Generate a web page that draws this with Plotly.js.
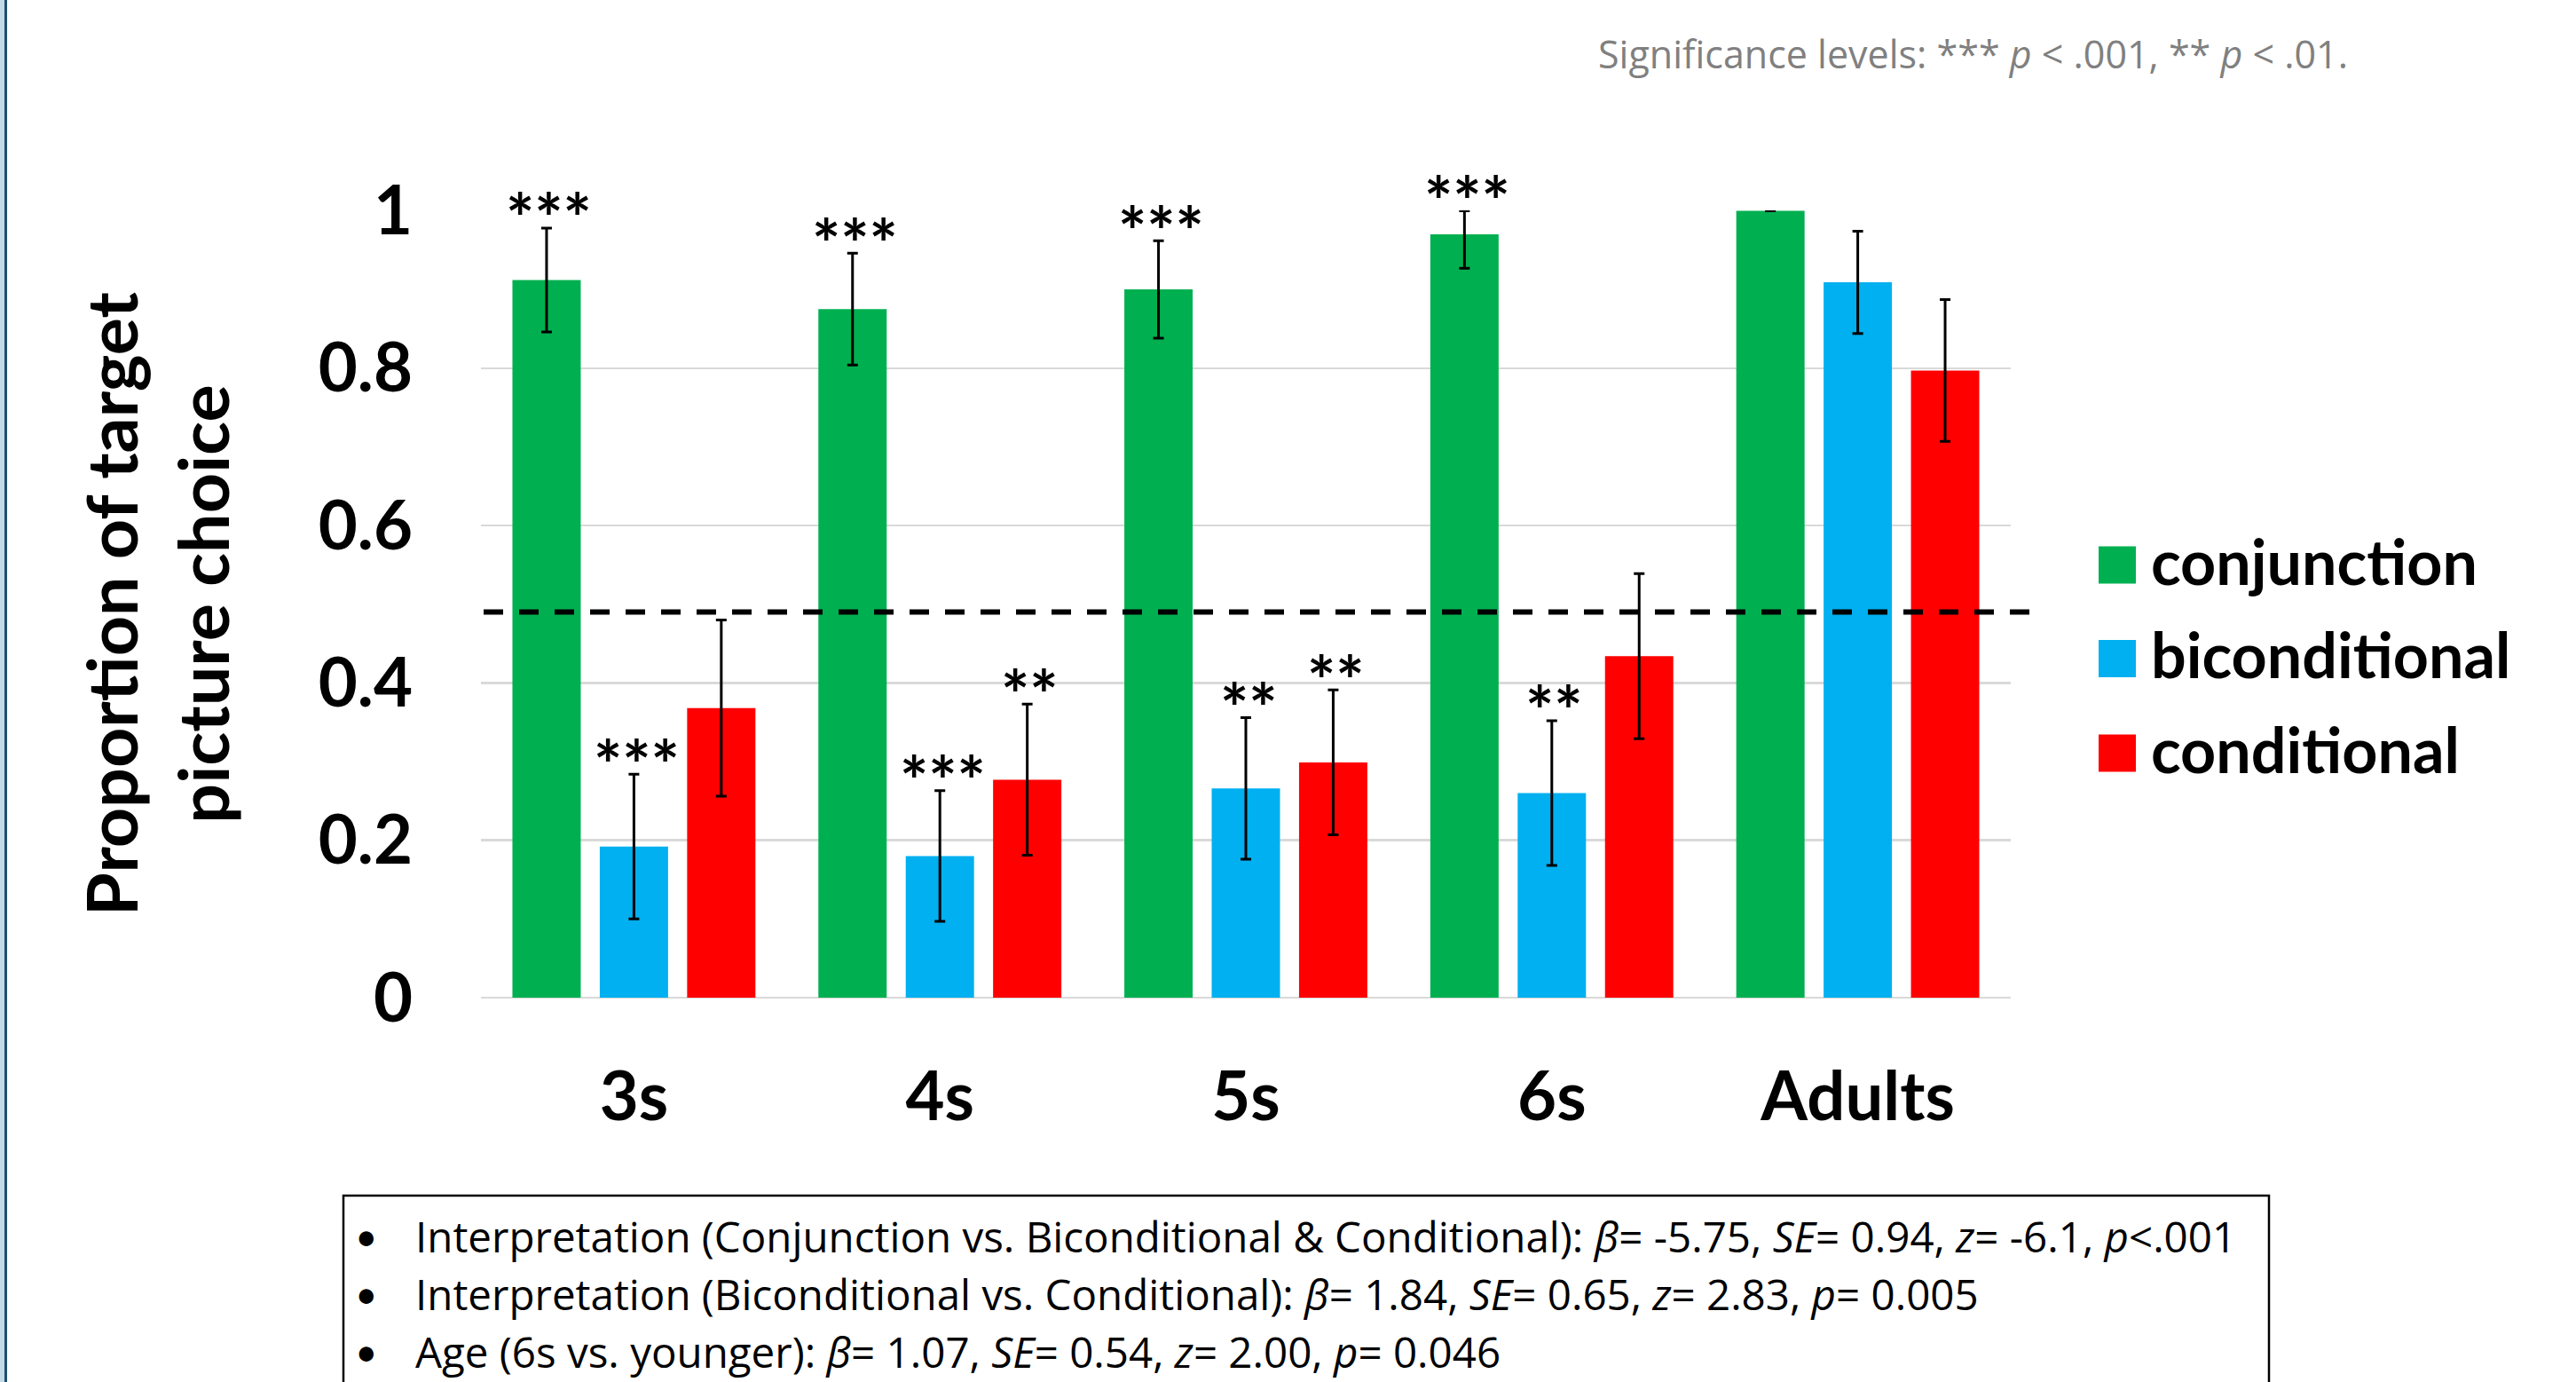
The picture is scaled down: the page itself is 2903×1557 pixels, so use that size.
<!DOCTYPE html>
<html>
<head>
<meta charset="utf-8">
<script src="https://cdn.plot.ly/plotly-3.0.1.min.js"></script>
<style>html,body{margin:0;padding:0;background:#fff;}#chart{width:2903px;height:1557px;}</style>
</head>
<body>
<div id="chart"></div>
<script>
// ---------- data ----------
const categories = ['3s', '4s', '5s', '6s', 'Adults'];
const seriesNames = ['conjunction', 'biconditional', 'conditional'];
const seriesColors = ['#00B050', '#00B0F0', '#FF0000'];

const conjunction = [0.912, 0.875, 0.900, 0.970, 1.000];
const conjunctionErrPlus = [0.066, 0.071, 0.062, 0.030, 0.000];
const conjunctionErrMinus = [0.066, 0.071, 0.062, 0.043, 0.000];

const biconditional = [0.192, 0.180, 0.266, 0.260, 0.909];
const biconditionalErr = [0.092, 0.083, 0.090, 0.092, 0.065];

const conditional = [0.368, 0.277, 0.299, 0.434, 0.797];
const conditionalErr = [0.112, 0.096, 0.092, 0.105, 0.090];

const conjunctionStars = ['***', '***', '***', '***', ''];
const biconditionalStars = ['***', '***', '**', '**', ''];
const conditionalStars = ['', '**', '**', '', ''];

const chanceLevel = 0.49;
const yTickVals = [0, 0.2, 0.4, 0.6, 0.8, 1];
const yTickText = ['0', '0.2', '0.4', '0.6', '0.8', '1'];

const yAxisTitle = 'Proportion of target<br>picture choice';
const significanceNote = 'Significance levels: *** <i>p</i> &lt; .001, ** <i>p</i> &lt; .01.';
const statsLines = [
  'Interpretation (Conjunction vs. Biconditional &amp; Conditional): <i>β</i>= -5.75, <i>SE</i>= 0.94, <i>z</i>= -6.1, <i>p</i>&lt;.001',
  'Interpretation (Biconditional vs. Conditional): <i>β</i>= 1.84, <i>SE</i>= 0.65, <i>z</i>= 2.83, <i>p</i>= 0.005',
  'Age (6s vs. younger): <i>β</i>= 1.07, <i>SE</i>= 0.54, <i>z</i>= 2.00, <i>p</i>= 0.046'
];

// ---------- layout geometry ----------
const W = 2903, H = 1557;
const M = {l: 542, r: 637, t: 237, b: 433};
const PW = W - M.l - M.r, PH = H - M.t - M.b;
const px2x = p => (p - M.l) / PW;          // pixel -> paper x
const py2y = p => (H - M.b - p) / PH;      // pixel -> paper y
const BARGAP = 0.1435, BARGROUPGAP = 0.218;
const slotPx = (PW / categories.length) * (1 - BARGAP) / seriesNames.length;

const FONT = 'Lato, "Open Sans", "Liberation Sans", sans-serif';
const NOTE_FONT = '"Open Sans", Lato, sans-serif';

const errStyle = {color: '#000', thickness: 3, width: 6};

const values = [conjunction, biconditional, conditional];
const errPlus = [conjunctionErrPlus, biconditionalErr, conditionalErr];
const errMinus = [conjunctionErrMinus, biconditionalErr, conditionalErr];
const stars = [conjunctionStars, biconditionalStars, conditionalStars];

const traces = seriesNames.map((name, i) => ({
  type: 'bar',
  name: name,
  x: categories,
  y: values[i],
  marker: {color: seriesColors[i], line: {width: 0}},
  error_y: Object.assign({type: 'data', symmetric: false, array: errPlus[i], arrayminus: errMinus[i], visible: true}, errStyle),
  cliponaxis: false,
  showlegend: false,
  hoverinfo: 'x+y+name'
}));

const annotations = [];
const shapes = [];

// significance stars above the error bars
stars.forEach((arr, i) => {
  arr.forEach((s, k) => {
    if (!s) return;
    annotations.push({
      xref: 'x', yref: 'y', x: categories[k], y: values[i][k] + errPlus[i][k],
      xshift: (i - 1) * slotPx + 3, yshift: 12,
      text: s, showarrow: false, xanchor: 'center', yanchor: 'middle',
      font: {family: FONT, size: 76, color: '#000', weight: 700}
    });
  });
});

// chance-level dashed line
shapes.push({
  type: 'line', xref: 'paper', yref: 'y', x0: px2x(545), x1: px2x(2290), y0: chanceLevel, y1: chanceLevel,
  line: {color: '#000', width: 6, dash: '22px,18px'}, layer: 'above'
});

// custom legend
const legendRows = [636.5, 742, 848.5];
seriesNames.forEach((name, i) => {
  const cy = legendRows[i];
  shapes.push({
    type: 'rect', xref: 'paper', yref: 'paper',
    x0: px2x(2365), x1: px2x(2407), y0: py2y(cy + 21), y1: py2y(cy - 21),
    fillcolor: seriesColors[i], line: {width: 0}
  });
  annotations.push({
    xref: 'paper', yref: 'paper', x: px2x(2422), y: py2y(cy - 5), xanchor: 'left', yanchor: 'middle',
    text: name, showarrow: false, font: {family: FONT, size: 70, color: '#000', weight: 700}
  });
});

// significance note (top right)
annotations.push({
  xref: 'paper', yref: 'paper', x: px2x(2648), y: py2y(60), xanchor: 'right', yanchor: 'middle',
  text: significanceNote, showarrow: false, font: {family: NOTE_FONT, size: 43, color: '#808080'}
});

// stats box
shapes.push({
  type: 'rect', xref: 'paper', yref: 'paper',
  x0: px2x(387), x1: px2x(2557), y0: py2y(1620), y1: py2y(1347),
  line: {color: '#000', width: 2.5}, fillcolor: 'rgba(0,0,0,0)'
});
const statRows = [1392, 1457, 1522];
statsLines.forEach((t, i) => {
  annotations.push({
    xref: 'paper', yref: 'paper', x: px2x(413), y: py2y(statRows[i]), xanchor: 'center', yanchor: 'middle',
    text: '•', showarrow: false, font: {family: FONT, size: 44, color: '#000'}
  });
  annotations.push({
    xref: 'paper', yref: 'paper', x: px2x(466), y: py2y(statRows[i]), xanchor: 'left', yanchor: 'middle',
    text: t, showarrow: false, font: {family: NOTE_FONT, size: 47.5, color: '#000'}
  });
});

// slide border on the left edge
shapes.push({type: 'rect', xref: 'paper', yref: 'paper', x0: px2x(0), x1: px2x(5), y0: py2y(H), y1: py2y(0), fillcolor: '#C3D9E6', line: {width: 0}});
shapes.push({type: 'rect', xref: 'paper', yref: 'paper', x0: px2x(5), x1: px2x(8), y0: py2y(H), y1: py2y(0), fillcolor: '#1F4E6B', line: {width: 0}});

const layout = {
  width: W, height: H,
  margin: M,
  paper_bgcolor: '#fff', plot_bgcolor: '#fff',
  barmode: 'group', bargap: BARGAP, bargroupgap: BARGROUPGAP,
  showlegend: false,
  font: {family: FONT, color: '#000'},
  xaxis: {
    type: 'category', range: [-0.5, 4.5], showgrid: false, showline: false, ticks: '',
    tickfont: {family: FONT, size: 76, color: '#000', weight: 700},
    ticklabelstandoff: 61, fixedrange: true
  },
  yaxis: {
    range: [0, 1.0005], tickvals: yTickVals, ticktext: yTickText,
    showgrid: true, gridcolor: '#D9D9D9', gridwidth: 2.5,
    zeroline: true, zerolinecolor: '#D9D9D9', zerolinewidth: 2.5,
    showline: false, ticks: '',
    tickfont: {family: FONT, size: 76, color: '#000', weight: 700},
    ticklabelstandoff: 76,
    title: {text: yAxisTitle, font: {family: FONT, size: 79, color: '#000', weight: 700}, standoff: 74},
    fixedrange: true
  },
  shapes: shapes,
  annotations: annotations
};

Plotly.newPlot('chart', traces, layout, {displayModeBar: false, staticPlot: true});
</script>
</body>
</html>
